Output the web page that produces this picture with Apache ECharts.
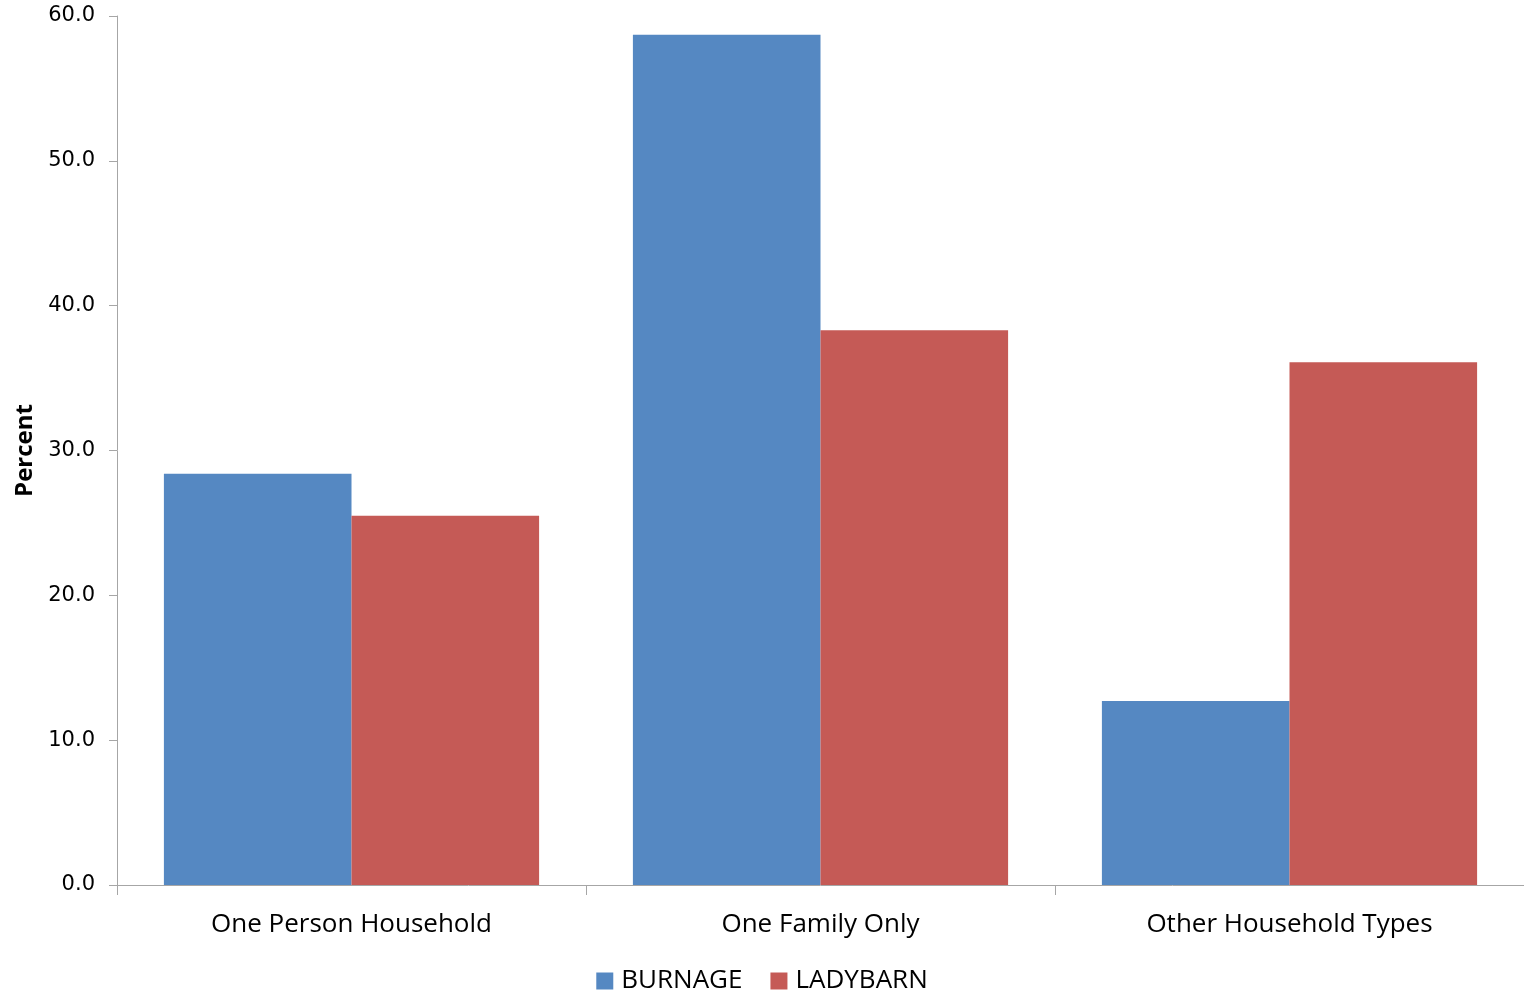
<!DOCTYPE html>
<html><head><meta charset="utf-8">
<script src="https://cdn.jsdelivr.net/npm/echarts@6/dist/echarts.min.js"></script>
<style>html,body{margin:0;padding:0;background:#fff}#c{width:1524px;height:993px}</style>
</head><body><div id="c"></div>
<script>
const categories = ["One Person Household", "One Family Only", "Other Household Types"];
const burnage = [28.4, 58.7, 12.7];
const ladybarn = [25.5, 38.3, 36.1];
const yTicks = { min: 0, max: 60, interval: 10 };

const chart = echarts.init(document.getElementById('c'));
chart.setOption({
  animation: false,
  backgroundColor: '#fff',
  textStyle: { fontFamily: 'DejaVu Sans' },
  grid: { left: 117, top: 16, width: 1412, height: 869, containLabel: false },
  legend: {
    bottom: -6, left: 'center', itemWidth: 17, itemHeight: 17, itemGap: 28,
    icon: 'rect',
    textStyle: { fontSize: 26, color: '#000', fontFamily: 'Open Sans', padding: [0, 0, 0, 3] },
    data: ['BURNAGE', 'LADYBARN']
  },
  xAxis: {
    type: 'category', data: categories,
    axisLine: { lineStyle: { color: '#a6a6a6', width: 1 } },
    axisTick: { show: true, length: 10, lineStyle: { color: '#a6a6a6' } },
    axisLabel: { fontSize: 26, color: '#000', margin: 27, fontFamily: 'Open Sans' }
  },
  yAxis: {
    type: 'value', min: yTicks.min, max: yTicks.max, interval: yTicks.interval,
    name: 'Percent', nameLocation: 'middle', nameGap: 80,
    nameTextStyle: { fontSize: 24, fontWeight: 'bold', color: '#000', fontFamily: 'Open Sans' },
    axisLine: { show: true, lineStyle: { color: '#a6a6a6' } },
    axisTick: { show: true, length: 8, lineStyle: { color: '#a6a6a6' } },
    splitLine: { show: false },
    axisLabel: { fontSize: 21, color: '#000', margin: 22, formatter: v => v.toFixed(1) }
  },
  series: [
    { name: 'BURNAGE', type: 'bar', data: burnage, barGap: '0%', barCategoryGap: '20%',
      itemStyle: { color: '#5588c2' } },
    { name: 'LADYBARN', type: 'bar', data: ladybarn, barGap: '0%', barCategoryGap: '20%',
      itemStyle: { color: '#c55a56' } }
  ]
});
</script></body></html>
